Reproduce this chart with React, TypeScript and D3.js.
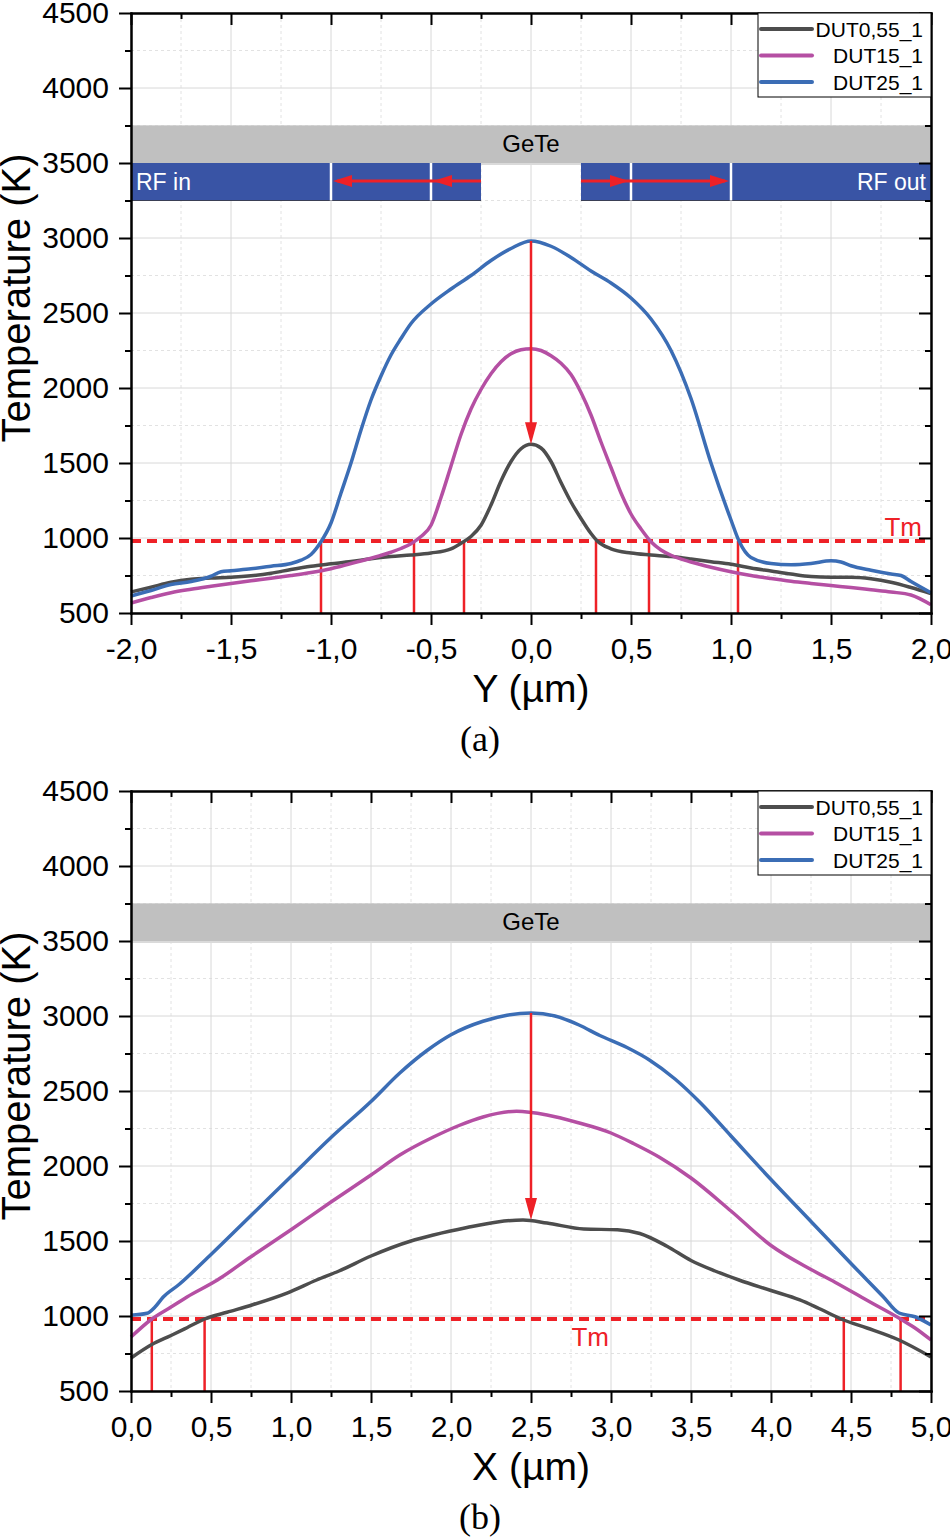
import React, { useEffect, useRef } from 'react';
import * as d3 from 'd3';

type Pt = [number, number];

const seriesNames = ['DUT0,55_1', 'DUT15_1', 'DUT25_1'];
const seriesColors = ['#4d4d4d', '#b54fa3', '#3b6db5'];

const tempTicks = [500, 1000, 1500, 2000, 2500, 3000, 3500, 4000, 4500];
const tempMinorTicks = [750, 1250, 1750, 2250, 2750, 3250, 3750, 4250];
const meltTemp = 980;

// GeTe layer and RF electrodes (temperature axis units)
const geteBand = [3500, 3750];
const rfBand = [3250, 3500];
const rfArrowLevel = 3380;

// (a) cut along Y
const yTicksA = [-2, -1.5, -1, -0.5, 0, 0.5, 1, 1.5, 2];
const yMinorA = [-1.75, -1.25, -0.75, -0.25, 0.25, 0.75, 1.25, 1.75];
const rfGap = [-0.25, 0.25];
const rfDividers = [-1.0, -0.5, 0.5, 1.0];
const rfTipsIn = [-0.99, -0.49];
const rfTipsOut = [0.49, 0.99];
const crossingsA = [-1.05, -0.585, -0.335, 0.325, 0.59, 1.035];

const dut055A: Pt[] = [
  [-2.0, 640], [-1.9, 672], [-1.8, 705], [-1.7, 725], [-1.6, 733], [-1.5, 738], [-1.4, 748],
  [-1.3, 765], [-1.2, 790], [-1.1, 812], [-1.0, 828], [-0.9, 843], [-0.8, 862], [-0.7, 876],
  [-0.6, 886], [-0.5, 900], [-0.4, 928], [-0.35, 965], [-0.3, 1010], [-0.25, 1085], [-0.2, 1220],
  [-0.15, 1380], [-0.1, 1510], [-0.05, 1595], [0, 1625], [0.05, 1600], [0.1, 1510], [0.15, 1370],
  [0.2, 1240], [0.25, 1130], [0.3, 1030], [0.33, 982], [0.4, 928], [0.5, 900], [0.6, 887],
  [0.7, 876], [0.8, 860], [0.9, 842], [1.0, 825], [1.1, 800], [1.2, 780], [1.3, 760], [1.4, 743],
  [1.5, 738], [1.6, 738], [1.7, 728], [1.8, 705], [1.9, 670], [2.0, 630],
];

const dut15A: Pt[] = [
  [-2.0, 567], [-1.9, 603], [-1.8, 635], [-1.7, 658], [-1.6, 678], [-1.5, 697], [-1.4, 715],
  [-1.3, 732], [-1.2, 750], [-1.1, 770], [-1.0, 795], [-0.9, 830], [-0.8, 865], [-0.7, 905],
  [-0.65, 930], [-0.6, 962], [-0.55, 1010], [-0.5, 1085], [-0.45, 1270], [-0.4, 1480],
  [-0.35, 1690], [-0.3, 1860], [-0.25, 1990], [-0.2, 2095], [-0.15, 2175], [-0.1, 2228],
  [-0.05, 2255], [0, 2262], [0.05, 2250], [0.1, 2215], [0.15, 2165], [0.2, 2090], [0.25, 1970],
  [0.3, 1820], [0.35, 1640], [0.4, 1470], [0.45, 1300], [0.5, 1160], [0.55, 1060], [0.6, 975],
  [0.65, 920], [0.7, 885], [0.8, 840], [0.9, 805], [1.0, 775], [1.1, 750], [1.2, 730], [1.3, 712],
  [1.4, 697], [1.5, 683], [1.6, 670], [1.7, 655], [1.8, 640], [1.9, 620], [2.0, 555],
];

const dut25A: Pt[] = [
  [-2.0, 613], [-1.9, 650], [-1.8, 690], [-1.7, 710], [-1.6, 745], [-1.55, 775], [-1.5, 782],
  [-1.4, 795], [-1.3, 812], [-1.2, 830], [-1.15, 852], [-1.1, 890], [-1.05, 975], [-1.0, 1100],
  [-0.95, 1300], [-0.9, 1500], [-0.85, 1720], [-0.8, 1920], [-0.75, 2080], [-0.7, 2220],
  [-0.65, 2330], [-0.6, 2430], [-0.5, 2560], [-0.4, 2660], [-0.3, 2750], [-0.2, 2850],
  [-0.1, 2930], [0, 2980], [0.1, 2945], [0.2, 2870], [0.3, 2780], [0.4, 2700], [0.5, 2600],
  [0.6, 2460], [0.7, 2250], [0.8, 1930], [0.9, 1500], [1.0, 1120], [1.04, 980], [1.1, 870],
  [1.2, 830], [1.3, 822], [1.4, 830], [1.5, 848], [1.55, 840], [1.6, 815], [1.7, 785],
  [1.8, 760], [1.85, 750], [1.9, 710], [2.0, 635],
];

// (b) cut along X
const xTicksB = [0, 0.5, 1, 1.5, 2, 2.5, 3, 3.5, 4, 4.5, 5];
const xMinorB = [0.25, 0.75, 1.25, 1.75, 2.25, 2.75, 3.25, 3.75, 4.25, 4.75];
const crossingsB = [0.13, 0.46, 4.455, 4.81];

const dut055B: Pt[] = [
  [0, 720], [0.13, 810], [0.25, 870], [0.35, 922], [0.46, 980], [0.6, 1025], [0.76, 1075],
  [0.975, 1153], [1.16, 1240], [1.3, 1300], [1.5, 1400], [1.75, 1500], [1.89, 1540], [2.1, 1590],
  [2.29, 1627], [2.45, 1640], [2.6, 1620], [2.83, 1580], [3.04, 1575], [3.18, 1550], [3.35, 1465],
  [3.5, 1370], [3.65, 1300], [3.8, 1240], [4.0, 1170], [4.18, 1107], [4.3, 1050], [4.45, 975],
  [4.6, 920], [4.8, 840], [5.0, 727],
];

const dut15B: Pt[] = [
  [0, 860], [0.13, 980], [0.25, 1060], [0.35, 1127], [0.54, 1240], [0.75, 1395], [1.0, 1575],
  [1.25, 1760], [1.5, 1940], [1.68, 2073], [1.89, 2193], [2.05, 2270], [2.2, 2327], [2.41, 2365],
  [2.6, 2340], [2.79, 2290], [3.0, 2220], [3.14, 2150], [3.3, 2060], [3.5, 1920], [3.75, 1700],
  [4.0, 1470], [4.25, 1310], [4.4, 1225], [4.6, 1105], [4.81, 980], [4.9, 920], [5.0, 840],
];

const dut25B: Pt[] = [
  [0, 1005], [0.1, 1018], [0.15, 1060], [0.2, 1125], [0.3, 1210], [0.5, 1410], [0.75, 1670],
  [1.0, 1930], [1.25, 2190], [1.5, 2430], [1.68, 2620], [1.85, 2770], [2.0, 2875], [2.2, 2965],
  [2.35, 3005], [2.5, 3020], [2.65, 3000], [2.8, 2940], [2.93, 2870], [3.1, 2790], [3.24, 2707],
  [3.4, 2580], [3.56, 2420], [3.75, 2200], [4.0, 1910], [4.25, 1630], [4.5, 1350], [4.6, 1240],
  [4.7, 1130], [4.8, 1020], [4.9, 995], [5.0, 940],
];

const SANS = '"Liberation Sans", Arial, sans-serif';
const SERIF = '"Liberation Serif", "Times New Roman", serif';
const RED = '#ee2127';
const LEFT = 131;
const W = 800;
const H = 600;

interface PanelConfig {
  top: number;
  xDomain: [number, number];
  xTicks: number[];
  xMinor: number[];
  series: Pt[][];
  crossings: number[];
  center: number;
  xTitle: string;
  tag: string;
  tmAt: number;
  tmAnchor: string;
  tmDy: number;
  rf: boolean;
}

const commaFmt = (v: number) => v.toFixed(1).replace('.', ',');

function drawPanel(root: d3.Selection<SVGSVGElement, unknown, null, undefined>, cfg: PanelConfig) {
  const g = root.append('g').attr('transform', `translate(${LEFT},${cfg.top})`);
  const x = d3.scaleLinear().domain(cfg.xDomain).range([0, W]);
  const y = d3.scaleLinear().domain([500, 4500]).range([H, 0]);

  // grid
  const grid = g.append('g');
  grid.selectAll('line.xm').data(cfg.xMinor).join('line')
    .attr('x1', d => x(d)).attr('x2', d => x(d)).attr('y1', 0).attr('y2', H)
    .attr('stroke', '#e2e2e2').attr('stroke-dasharray', '3,3');
  grid.selectAll('line.ym').data(tempMinorTicks).join('line')
    .attr('y1', d => y(d)).attr('y2', d => y(d)).attr('x1', 0).attr('x2', W)
    .attr('stroke', '#e2e2e2').attr('stroke-dasharray', '3,3');
  grid.selectAll('line.xM').data(cfg.xTicks).join('line')
    .attr('x1', d => x(d)).attr('x2', d => x(d)).attr('y1', 0).attr('y2', H)
    .attr('stroke', '#d8d8d8');
  grid.selectAll('line.yM').data(tempTicks).join('line')
    .attr('y1', d => y(d)).attr('y2', d => y(d)).attr('x1', 0).attr('x2', W)
    .attr('stroke', '#d8d8d8');

  // GeTe layer
  g.append('rect')
    .attr('x', 0).attr('width', W)
    .attr('y', y(geteBand[1])).attr('height', y(geteBand[0]) - y(geteBand[1]) + 2)
    .attr('fill', '#dadada');
  g.append('rect')
    .attr('x', 0).attr('width', W)
    .attr('y', y(geteBand[1])).attr('height', y(geteBand[0]) - y(geteBand[1]))
    .attr('fill', '#c0c0c0');
  g.append('text')
    .attr('x', x(cfg.center)).attr('y', (y(geteBand[0]) + y(geteBand[1])) / 2 + 8)
    .attr('text-anchor', 'middle').attr('font-family', SANS).attr('font-size', 24)
    .text('GeTe');

  if (cfg.rf) {
    const segs: [number, number][] = [[cfg.xDomain[0], rfGap[0]], [rfGap[1], cfg.xDomain[1]]];
    g.selectAll('rect.rf').data(segs).join('rect')
      .attr('x', d => x(d[0])).attr('width', d => x(d[1]) - x(d[0]))
      .attr('y', y(rfBand[1])).attr('height', y(rfBand[0]) - y(rfBand[1]))
      .attr('fill', '#3954a5');
    g.selectAll('line.rfb').data(segs).join('line')
      .attr('x1', d => x(d[0])).attr('x2', d => x(d[1]))
      .attr('y1', y(rfBand[0])).attr('y2', y(rfBand[0]))
      .attr('stroke', '#3a3f55').attr('stroke-width', 1.2);
    g.selectAll('line.rfd').data(rfDividers).join('line')
      .attr('x1', d => x(d)).attr('x2', d => x(d))
      .attr('y1', y(rfBand[1])).attr('y2', y(rfBand[0]))
      .attr('stroke', '#fff').attr('stroke-width', 2.5);

    const ay = y(rfArrowLevel);
    g.append('line').attr('x1', x(rfGap[0])).attr('x2', x(rfTipsIn[0]) + 4)
      .attr('y1', ay).attr('y2', ay).attr('stroke', RED).attr('stroke-width', 3);
    g.append('line').attr('x1', x(rfGap[1])).attr('x2', x(rfTipsOut[1]) - 4)
      .attr('y1', ay).attr('y2', ay).attr('stroke', RED).attr('stroke-width', 3);
    g.selectAll('path.hl').data(rfTipsIn).join('path')
      .attr('d', d => `M${x(d)},${ay}L${x(d) + 19},${ay - 6}L${x(d) + 19},${ay + 6}Z`)
      .attr('fill', RED);
    g.selectAll('path.hr').data(rfTipsOut).join('path')
      .attr('d', d => `M${x(d)},${ay}L${x(d) - 19},${ay - 6}L${x(d) - 19},${ay + 6}Z`)
      .attr('fill', RED);

    g.append('text').attr('x', x(cfg.xDomain[0]) + 5).attr('y', ay + 9)
      .attr('font-family', SANS).attr('font-size', 23).attr('fill', '#fff').text('RF in');
    g.append('text').attr('x', x(cfg.xDomain[1]) - 5).attr('y', ay + 9)
      .attr('text-anchor', 'end')
      .attr('font-family', SANS).attr('font-size', 23).attr('fill', '#fff').text('RF out');
  }

  // melting temperature and crossing markers
  g.append('line').attr('x1', 0).attr('x2', W).attr('y1', y(meltTemp)).attr('y2', y(meltTemp))
    .attr('stroke', RED).attr('stroke-width', 4).attr('stroke-dasharray', '10,6');
  g.selectAll('line.cross').data(cfg.crossings).join('line')
    .attr('x1', d => x(d)).attr('x2', d => x(d))
    .attr('y1', y(meltTemp)).attr('y2', y(500))
    .attr('stroke', RED).attr('stroke-width', 2.5);
  g.append('text')
    .attr('x', x(cfg.tmAt)).attr('y', y(meltTemp) + cfg.tmDy)
    .attr('text-anchor', cfg.tmAnchor)
    .attr('font-family', SANS).attr('font-size', 26).attr('fill', RED)
    .text('Tm');

  // curves
  const line = d3.line<Pt>().x(d => x(d[0])).y(d => y(d[1])).curve(d3.curveMonotoneX);
  g.selectAll('path.curve').data(cfg.series).join('path')
    .attr('d', d => line(d))
    .attr('fill', 'none')
    .attr('stroke', (_d, i) => seriesColors[i])
    .attr('stroke-width', 3.5)
    .attr('stroke-linejoin', 'round');

  // peak-to-peak arrow
  const topPeak = d3.max(cfg.series[2], d => d[1]) as number;
  const lowPeak = d3.max(cfg.series[0], d => d[1]) as number;
  const cx = x(cfg.center);
  g.append('line').attr('x1', cx).attr('x2', cx)
    .attr('y1', y(topPeak)).attr('y2', y(lowPeak) - 18)
    .attr('stroke', RED).attr('stroke-width', 2.5);
  g.append('path')
    .attr('d', `M${cx},${y(lowPeak)}L${cx - 6},${y(lowPeak) - 22}L${cx + 6},${y(lowPeak) - 22}Z`)
    .attr('fill', RED);

  // axes
  const style = (sel: d3.Selection<SVGGElement, unknown, null, undefined>) => {
    sel.attr('font-family', SANS).attr('font-size', 30);
    sel.select('.domain').attr('stroke-width', 2).attr('stroke-linecap', 'square');
    sel.selectAll('.tick line').attr('stroke-width', 2);
    sel.selectAll('.tick text').attr('fill', '#000');
  };
  const none = () => '';

  g.append('g').call(d3.axisLeft(y).tickValues(tempTicks).tickSize(12).tickSizeOuter(0)
    .tickPadding(10).tickFormat(d3.format('d'))).call(style);
  g.append('g').call(d3.axisLeft(y).tickValues(tempMinorTicks).tickSize(6).tickSizeOuter(0)
    .tickFormat(none)).call(style);
  g.append('g').attr('transform', `translate(${W},0)`)
    .call(d3.axisRight(y).tickValues(tempTicks).tickSize(-12).tickSizeOuter(0).tickFormat(none)).call(style);
  g.append('g').attr('transform', `translate(${W},0)`)
    .call(d3.axisRight(y).tickValues(tempMinorTicks).tickSize(-6).tickSizeOuter(0).tickFormat(none)).call(style);

  g.append('g').attr('transform', `translate(0,${H})`)
    .call(d3.axisBottom(x).tickValues(cfg.xTicks).tickSize(12).tickSizeOuter(0)
      .tickPadding(13).tickFormat(d => commaFmt(d as number))).call(style);
  g.append('g').attr('transform', `translate(0,${H})`)
    .call(d3.axisBottom(x).tickValues(cfg.xMinor).tickSize(6).tickSizeOuter(0).tickFormat(none)).call(style);
  g.append('g')
    .call(d3.axisTop(x).tickValues(cfg.xTicks).tickSize(-12).tickSizeOuter(0).tickFormat(none)).call(style);
  g.append('g')
    .call(d3.axisTop(x).tickValues(cfg.xMinor).tickSize(-6).tickSizeOuter(0).tickFormat(none)).call(style);

  // legend
  const lg = g.append('g').attr('transform', `translate(${W - 173},0)`);
  lg.append('rect').attr('width', 173).attr('height', 84)
    .attr('fill', '#fff').attr('stroke', '#000').attr('stroke-width', 1);
  const rows = lg.selectAll('g.row').data(seriesNames).join('g')
    .attr('transform', (_d, i) => `translate(0,${16 + i * 26.5})`);
  rows.append('line').attr('x1', 3).attr('x2', 54)
    .attr('stroke', (_d, i) => seriesColors[i]).attr('stroke-width', 4).attr('stroke-linecap', 'round');
  rows.append('text').attr('x', 165).attr('y', 7.5).attr('text-anchor', 'end')
    .attr('font-family', SANS).attr('font-size', 21).text(d => d);

  // titles
  g.append('text')
    .attr('transform', `translate(-101,${H / 2 - 15}) rotate(-90)`)
    .attr('text-anchor', 'middle').attr('font-family', SANS).attr('font-size', 40)
    .text('Temperature (K)');
  g.append('text')
    .attr('x', W / 2).attr('y', H + 89)
    .attr('text-anchor', 'middle').attr('font-family', SANS).attr('font-size', 39)
    .text(cfg.xTitle);
  g.append('text')
    .attr('x', W / 2 - 51).attr('y', H + 138)
    .attr('text-anchor', 'middle').attr('font-family', SERIF).attr('font-size', 36)
    .text(cfg.tag);
}

export default function App() {
  const svgRef = useRef<SVGSVGElement>(null);

  useEffect(() => {
    if (!svgRef.current) return;
    const svg = d3.select(svgRef.current);
    svg.selectAll('*').remove();

    drawPanel(svg, {
      top: 13,
      xDomain: [-2, 2],
      xTicks: yTicksA,
      xMinor: yMinorA,
      series: [dut055A, dut15A, dut25A],
      crossings: crossingsA,
      center: 0,
      xTitle: 'Y (µm)',
      tag: '(a)',
      tmAt: 1.955,
      tmAnchor: 'end',
      tmDy: -5,
      rf: true,
    });
    drawPanel(svg, {
      top: 791,
      xDomain: [0, 5],
      xTicks: xTicksB,
      xMinor: xMinorB,
      series: [dut055B, dut15B, dut25B],
      crossings: crossingsB,
      center: 2.5,
      xTitle: 'X (µm)',
      tag: '(b)',
      tmAt: 2.87,
      tmAnchor: 'middle',
      tmDy: 27,
      rf: false,
    });
  }, []);

  return (
    <svg
      ref={svgRef}
      width={950}
      height={1539}
      style={{ position: 'absolute', left: 0, top: 0, background: '#fff' }}
    />
  );
}
